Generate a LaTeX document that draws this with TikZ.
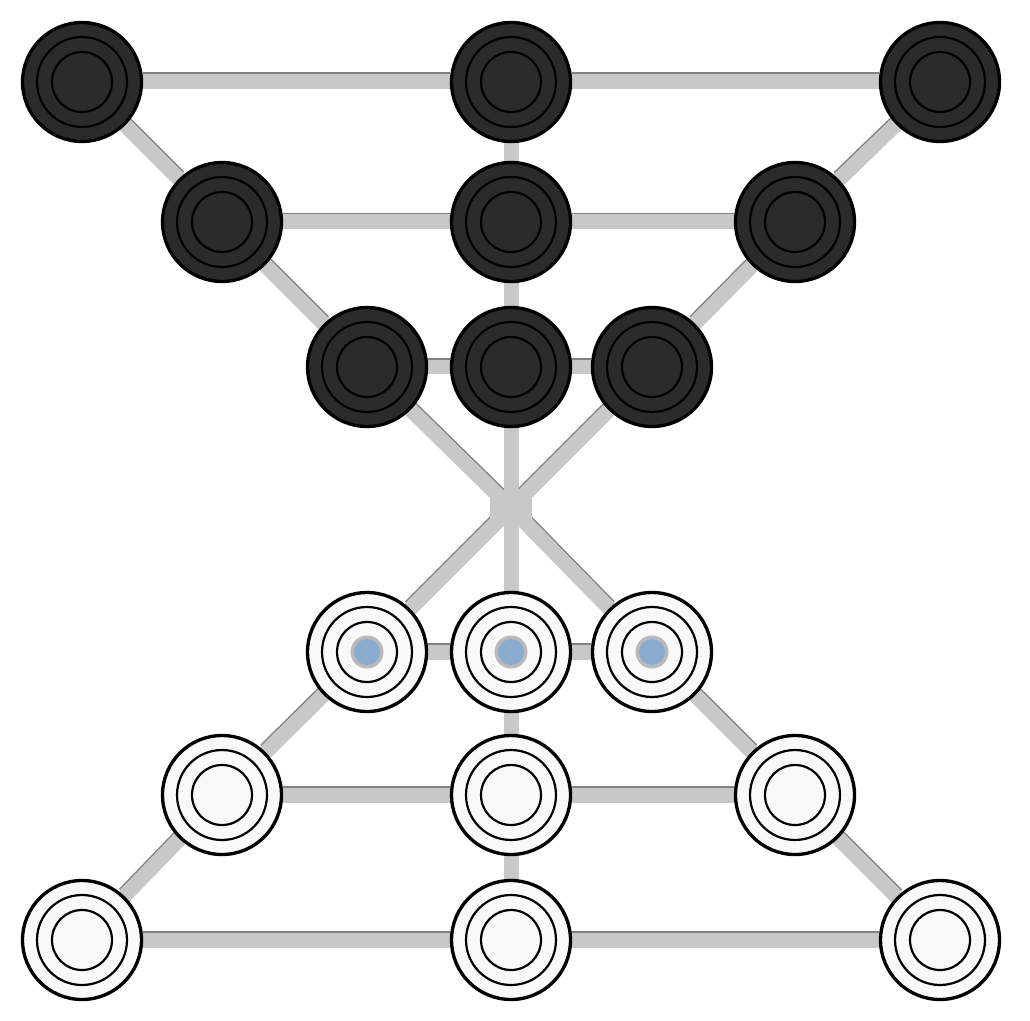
\documentclass[tikz,border=0pt]{standalone}
\usepackage{tikz}
\usetikzlibrary{positioning}
\pgfdeclarelayer{background}
\pgfsetlayers{background,main}
\definecolor{stone}{RGB}{43,43,43}
\definecolor{pearl}{RGB}{249,249,249}
\definecolor{trackgray}{RGB}{200,200,200}
\definecolor{trackedge}{RGB}{130,130,130}
\definecolor{dotblue}{RGB}{138,172,206}
\definecolor{halo}{RGB}{185,185,185}
\newcommand{\boardedges}{al/am, am/ar, bl/bm, bm/br, cl/cm, cm/cr, dl/dm, dm/dr, el/em, em/er, fl/fm, fm/fr,
    am/bm, bm/cm, cm/hub.center, hub.center/dm, dm/em, em/fm,
    al/bl, bl/cl, cl/hub.center, hub.center/dr, dr/er, er/fr,
    ar/br, br/cr, cr/hub.center, hub.center/dl, dl/el, el/fl}

\begin{document}
\begin{tikzpicture}[x=0.02cm, y=-0.02cm,
        piece/.style={circle, draw=black, line width=1.9pt, minimum size=2.38cm, inner sep=0pt,
            path picture={\draw[black, line width=1.25pt] (path picture bounding box.center) circle (0.9cm)
                (path picture bounding box.center) circle (0.6cm);}},
        darkpiece/.style={piece, fill=stone},
        lightpiece/.style={piece, fill=pearl},
        bluepiece/.style={piece, fill=pearl,
            path picture={\draw[black, line width=1.25pt] (path picture bounding box.center) circle (0.9cm)
                (path picture bounding box.center) circle (0.6cm);
                \fill[halo] (path picture bounding box.center) circle (0.33cm);
                \fill[dotblue] (path picture bounding box.center) circle (0.26cm);}},
        track/.style={draw=trackgray, line width=0.3cm},
        trackshade/.style={draw=trackedge, line width=0.3cm}
    ]
    \useasboundingbox (0,0) rectangle (1030,1020);
    % dark pieces
    \node[darkpiece] (al) at (82,82) {};
    \node[darkpiece] (am) at (511,82) {};
    \node[darkpiece] (ar) at (940,82) {};
    \node[darkpiece] (bl) at (222,222) {};
    \node[darkpiece] (bm) at (511,222) {};
    \node[darkpiece] (br) at (795,222) {};
    \node[darkpiece] (cl) at (367,367) {};
    \node[darkpiece] (cm) at (511,367) {};
    \node[darkpiece] (cr) at (652,367) {};
    % crossing point
    \node[rectangle, fill=trackgray, minimum width=0.84cm, minimum height=0.62cm, inner sep=0pt] (hub) at (511,508) {};
    % light pieces
    \node[bluepiece] (dl) at (367,652) {};
    \node[bluepiece] (dm) at (511,652) {};
    \node[bluepiece] (dr) at (652,652) {};
    \node[lightpiece] (el) at (222,795) {};
    \node[lightpiece] (em) at (511,795) {};
    \node[lightpiece] (er) at (795,795) {};
    \node[lightpiece] (fl) at (82,940) {};
    \node[lightpiece] (fm) at (511,940) {};
    \node[lightpiece] (fr) at (940,940) {};
    % lines of the board
    \begin{pgfonlayer}{background}
        \fill[white] (0,0) rectangle (1030,1020);
        \begin{scope}[transform canvas={yshift=0.04cm}]
            \foreach \a/\b in \boardedges
                \draw[trackshade] (\a) -- (\b);
        \end{scope}
        \foreach \a/\b in \boardedges
            \draw[track] (\a) -- (\b);
    \end{pgfonlayer}
\end{tikzpicture}
\end{document}
